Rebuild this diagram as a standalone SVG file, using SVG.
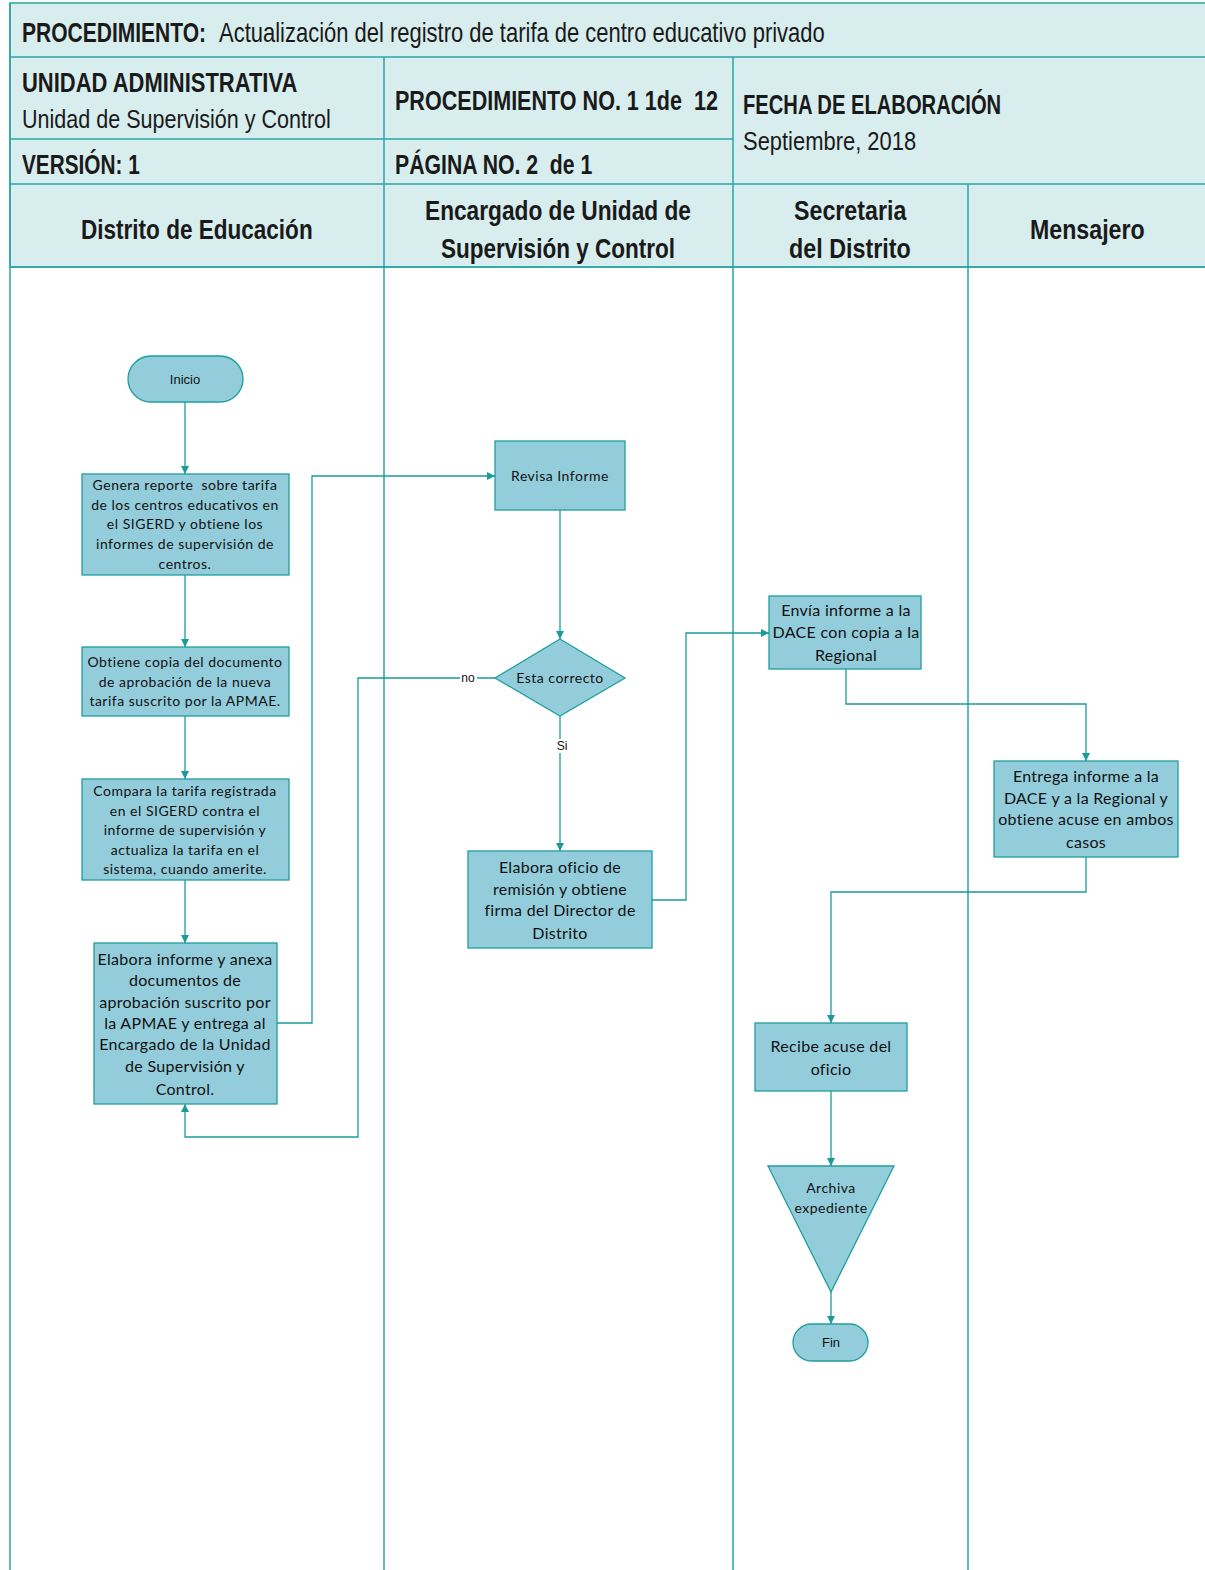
<svg xmlns="http://www.w3.org/2000/svg" width="1205" height="1570" viewBox="0 0 1205 1570">
<style>
.hdr{fill:#d8eded;stroke:#2aa5a5;stroke-width:1.5}
.grid{stroke:#2aa5a5;stroke-width:1.5;fill:none}
.hb{font-family:"Liberation Sans",Arial,sans-serif;font-weight:bold;fill:#1a1a1a}
.hr{font-family:"Liberation Sans",Arial,sans-serif;fill:#1a1a1a}
.node{fill:#93cddb;stroke:#1f9e9e;stroke-width:1.3}
.t{font-family:Lato,"Open Sans",sans-serif;fill:#111;text-anchor:middle}
.s{font-size:14px;letter-spacing:0.5px}
.l{font-size:16px;letter-spacing:0.3px}
.a{font-family:"Liberation Sans",Arial,sans-serif;fill:#111;text-anchor:middle}
.c{stroke:#1a9b9b;stroke-width:1.3;fill:none}
</style>
<defs>
<marker id="ar" viewBox="0 0 10 10" refX="10" refY="5" markerWidth="8" markerHeight="8" markerUnits="userSpaceOnUse" orient="auto">
<path d="M0,0 L10,5 L0,10 z" fill="#1a9b9b"/>
</marker>
</defs>
<rect width="1205" height="1570" fill="#ffffff"/>

<g id="header">
<rect class="hdr" x="10" y="3" width="1200" height="264"/>
<line class="grid" x1="10" y1="57" x2="1205" y2="57"/>
<line class="grid" x1="10" y1="139" x2="733" y2="139"/>
<line class="grid" x1="10" y1="184" x2="1205" y2="184"/>
<line class="grid" x1="384" y1="57" x2="384" y2="184"/>
<line class="grid" x1="733" y1="57" x2="733" y2="184"/>
<text class="hb" transform="translate(22,42) scale(0.78,1)" font-size="27" textLength="236" lengthAdjust="spacingAndGlyphs">PROCEDIMIENTO:</text>
<text class="hr" transform="translate(219,42) scale(0.76,1)" font-size="27" textLength="797" lengthAdjust="spacingAndGlyphs">Actualización del registro de tarifa de centro educativo privado</text>
<text class="hb" transform="translate(22,92) scale(0.78,1)" font-size="28" textLength="353" lengthAdjust="spacingAndGlyphs">UNIDAD ADMINISTRATIVA</text>
<text class="hr" transform="translate(22,128) scale(0.78,1)" font-size="26" textLength="396" lengthAdjust="spacingAndGlyphs">Unidad de Supervisión y Control</text>
<text class="hb" transform="translate(395,110) scale(0.78,1)" font-size="28" textLength="414" lengthAdjust="spacingAndGlyphs" xml:space="preserve">PROCEDIMIENTO NO. 1 1de  12</text>
<text class="hb" transform="translate(743,114) scale(0.78,1)" font-size="28" textLength="331" lengthAdjust="spacingAndGlyphs">FECHA DE ELABORACIÓN</text>
<text class="hr" transform="translate(743,150) scale(0.78,1)" font-size="26" textLength="222" lengthAdjust="spacingAndGlyphs">Septiembre, 2018</text>
<text class="hb" transform="translate(22,174) scale(0.78,1)" font-size="28" textLength="151" lengthAdjust="spacingAndGlyphs">VERSIÓN: 1</text>
<text class="hb" transform="translate(395,174) scale(0.78,1)" font-size="28" textLength="253" lengthAdjust="spacingAndGlyphs" xml:space="preserve">PÁGINA NO. 2  de 1</text>
</g>

<g id="lanes">
<line class="grid" x1="10" y1="267" x2="1205" y2="267"/>
<line class="grid" x1="10" y1="3" x2="10" y2="1570"/>
<line class="grid" x1="384" y1="184" x2="384" y2="1570"/>
<line class="grid" x1="733" y1="184" x2="733" y2="1570"/>
<line class="grid" x1="968" y1="184" x2="968" y2="1570"/>
<text class="hb" transform="translate(81,239) scale(0.78,1)" font-size="28" textLength="297" lengthAdjust="spacingAndGlyphs">Distrito de Educación</text>
<text class="hb" transform="translate(425,220) scale(0.78,1)" font-size="28" textLength="341" lengthAdjust="spacingAndGlyphs">Encargado de Unidad de</text>
<text class="hb" transform="translate(441,258) scale(0.78,1)" font-size="28" textLength="300" lengthAdjust="spacingAndGlyphs">Supervisión y Control</text>
<text class="hb" transform="translate(794,220) scale(0.78,1)" font-size="28" textLength="144" lengthAdjust="spacingAndGlyphs">Secretaria</text>
<text class="hb" transform="translate(789,258) scale(0.78,1)" font-size="28" textLength="156" lengthAdjust="spacingAndGlyphs">del Distrito</text>
<text class="hb" transform="translate(1030,239) scale(0.78,1)" font-size="28" textLength="147" lengthAdjust="spacingAndGlyphs">Mensajero</text>
</g>

<g id="connectors">
<path class="c" d="M185,402 V474" marker-end="url(#ar)"/>
<path class="c" d="M185,575 V647" marker-end="url(#ar)"/>
<path class="c" d="M185,716 V779" marker-end="url(#ar)"/>
<path class="c" d="M185,880 V943" marker-end="url(#ar)"/>
<path class="c" d="M277,1023 H312 V476 H495" marker-end="url(#ar)"/>
<path class="c" d="M560,510 V639" marker-end="url(#ar)"/>
<path class="c" d="M495,678 H358 V1137 H185 V1104" marker-end="url(#ar)"/>
<path class="c" d="M560,716 V851" marker-end="url(#ar)"/>
<path class="c" d="M652,900 H686 V633 H769" marker-end="url(#ar)"/>
<path class="c" d="M846,669 V704 H1086 V761" marker-end="url(#ar)"/>
<path class="c" d="M1086,857 V892 H831 V1023" marker-end="url(#ar)"/>
<path class="c" d="M831,1091 V1166" marker-end="url(#ar)"/>
<path class="c" d="M831,1292 V1324" marker-end="url(#ar)"/>
<rect x="460" y="671" width="17" height="14" fill="#ffffff"/>
<text class="a" x="468" y="682" font-size="12">no</text>
<rect x="555" y="739" width="14" height="14" fill="#ffffff"/>
<text class="a" x="562" y="750" font-size="12">Si</text>
</g>

<g id="inicio">
<rect class="node" x="128" y="356" width="115" height="46" rx="23"/>
<text class="a" x="185" y="384" font-size="13">Inicio</text>
</g>
<g id="genera">
<rect class="node" x="82" y="474" width="207" height="101"/>
<text class="t s" xml:space="preserve"><tspan x="185" y="490">Genera reporte  sobre tarifa</tspan><tspan x="185" y="510">de los centros educativos en</tspan><tspan x="185" y="529">el SIGERD y obtiene los</tspan><tspan x="185" y="549">informes de supervisión de</tspan><tspan x="185" y="569">centros.</tspan></text>
</g>
<g id="obtiene">
<rect class="node" x="82" y="647" width="207" height="69"/>
<text class="t s"><tspan x="185" y="667">Obtiene copia del documento</tspan><tspan x="185" y="687">de aprobación de la nueva</tspan><tspan x="185" y="706">tarifa suscrito por la APMAE.</tspan></text>
</g>
<g id="compara">
<rect class="node" x="82" y="779" width="207" height="101"/>
<text class="t s"><tspan x="185" y="796">Compara la tarifa registrada</tspan><tspan x="185" y="816">en el SIGERD contra el</tspan><tspan x="185" y="835">informe de supervisión y</tspan><tspan x="185" y="855">actualiza la tarifa en el</tspan><tspan x="185" y="874">sistema, cuando amerite.</tspan></text>
</g>
<g id="elabora-informe">
<rect class="node" x="94" y="943" width="183" height="161"/>
<text class="t l"><tspan x="185" y="965">Elabora informe y anexa</tspan><tspan x="185" y="986">documentos de</tspan><tspan x="185" y="1008">aprobación suscrito por</tspan><tspan x="185" y="1029">la APMAE y entrega al</tspan><tspan x="185" y="1050">Encargado de la Unidad</tspan><tspan x="185" y="1072">de Supervisión y</tspan><tspan x="185" y="1095">Control.</tspan></text>
</g>
<g id="revisa">
<rect class="node" x="495" y="441" width="130" height="69"/>
<text class="t s" x="560" y="481">Revisa Informe</text>
</g>
<g id="decision">
<polygon class="node" points="560,639 625,678 560,716 495,678"/>
<text class="t s" x="560" y="683">Esta correcto</text>
</g>
<g id="elabora-oficio">
<rect class="node" x="468" y="851" width="184" height="97"/>
<text class="t l"><tspan x="560" y="873">Elabora oficio de</tspan><tspan x="560" y="895">remisión y obtiene</tspan><tspan x="560" y="916">firma del Director de</tspan><tspan x="560" y="939">Distrito</tspan></text>
</g>
<g id="envia">
<rect class="node" x="769" y="596" width="152" height="73"/>
<text class="t l"><tspan x="846" y="616">Envía informe a la</tspan><tspan x="846" y="638">DACE con copia a la</tspan><tspan x="846" y="661">Regional</tspan></text>
</g>
<g id="entrega">
<rect class="node" x="994" y="761" width="184" height="96"/>
<text class="t l"><tspan x="1086" y="782">Entrega informe a la</tspan><tspan x="1086" y="804">DACE y a la Regional y</tspan><tspan x="1086" y="825">obtiene acuse en ambos</tspan><tspan x="1086" y="848">casos</tspan></text>
</g>
<g id="recibe">
<rect class="node" x="755" y="1023" width="152" height="68"/>
<text class="t l"><tspan x="831" y="1052">Recibe acuse del</tspan><tspan x="831" y="1075">oficio</tspan></text>
</g>
<g id="archiva">
<polygon class="node" points="768,1166 894,1166 831,1292"/>
<text class="t s"><tspan x="831" y="1193">Archiva</tspan><tspan x="831" y="1213">expediente</tspan></text>
</g>
<g id="fin">
<rect class="node" x="793" y="1324" width="75" height="37" rx="18.5"/>
<text class="a" x="831" y="1347" font-size="13">Fin</text>
</g>
</svg>
